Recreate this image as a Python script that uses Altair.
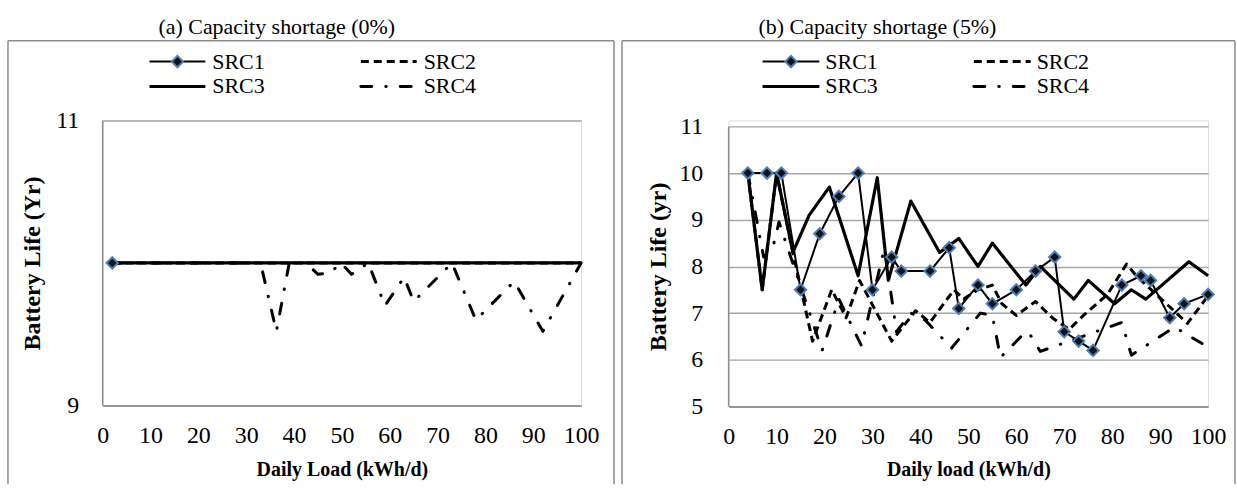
import altair as alt
import pandas as pd

SERIES = ["SRC1", "SRC2", "SRC3", "SRC4"]

# ---------------- Panel (a): capacity shortage 0% ----------------
a_src1_load = [2]
a_src1_life = [10]
a_src2_load = [2, 100]
a_src2_life = [10, 10]
a_src3_load = [2, 100]
a_src3_life = [10, 10]
a_src4_load = [2, 33, 36.3, 39, 42.5, 45, 47.5, 49.8, 52, 55.5, 59, 63, 65, 73, 78, 86, 92, 100]
a_src4_life = [10, 10, 9.52, 10, 10, 9.92, 9.93, 10, 9.92, 10, 9.7, 9.9, 9.73, 10, 9.6, 9.87, 9.52, 10]

# ---------------- Panel (b): capacity shortage 5% ----------------
b_src1_load = [4, 8, 11, 15, 19, 23, 27, 30, 34, 36, 42, 46, 48, 52, 55, 60, 64, 68, 70, 73, 76, 82, 86, 88, 92, 95, 100]
b_src1_life = [10, 10, 10, 7.5, 8.7, 9.5, 10, 7.5, 8.2, 7.9, 7.9, 8.4, 7.1, 7.6, 7.2, 7.5, 7.9, 8.2, 6.6, 6.4, 6.2, 7.6, 7.8, 7.7, 6.9, 7.2, 7.4]
b_src2_load = [4, 7, 10, 13.4, 17.5, 21.5, 24.5, 27.3, 34, 39, 42, 47, 49, 52, 55, 57, 60, 64, 67.5, 71, 74, 79, 83, 85, 95.7, 100]
b_src2_life = [10, 7.5, 10, 8.3, 6.4, 7.5, 6.9, 7.7, 6.4, 7.05, 6.8, 7.5, 7.3, 7.5, 7.6, 7.2, 6.95, 7.25, 6.9, 6.65, 6.95, 7.4, 8.05, 7.8, 6.78, 7.37]
b_src3_load = [4, 7, 10, 13.4, 16.8, 21, 27, 31, 33.3, 38, 44, 48, 52, 55, 62, 65, 72, 75, 80.5, 84, 87, 96, 100]
b_src3_life = [10, 7.5, 10, 8.3, 9.1, 9.7, 7.8, 9.9, 7.7, 9.4, 8.3, 8.6, 8.0, 8.5, 7.6, 8.0, 7.3, 7.7, 7.2, 7.5, 7.3, 8.1, 7.8]
b_src4_load = [4, 7.3, 9.2, 10.5, 19.5, 23, 27.7, 32.5, 35, 38, 41, 46.5, 52.5, 55, 56.7, 61, 62.5, 65, 82, 84, 93, 100]
b_src4_life = [10, 8.2, 8.4, 8.95, 6.2, 7.3, 6.3, 8.4, 6.6, 7.0, 6.85, 6.25, 7.0, 6.95, 6.05, 6.5, 6.6, 6.18, 6.8, 6.1, 6.7, 6.27]

x_ticks = [0, 10, 20, 30, 40, 50, 60, 70, 80, 90, 100]
a_y_ticks = [9, 10, 11]
b_y_ticks = [5, 6, 7, 8, 9, 10, 11]

FONT = "Liberation Serif"
GRID = "#a6a6a6"
FRAME = "#8c8c8c"
MARKER_STROKE = "#4a7ebb"

STYLE = {
    "SRC1": dict(strokeWidth=2),
    "SRC2": dict(strokeWidth=3, strokeDash=[8, 5]),
    "SRC3": dict(strokeWidth=3.2),
    "SRC4": dict(strokeWidth=3, strokeDash=[11, 14, 0.5, 14], strokeCap="round"),
}


def frame_df(loads, lives, name):
    return pd.DataFrame({"load": loads, "life": lives, "series": name})


def make_panel(data, yticks, ydomain, top_gap, title, title_x, ytitle, xtitle, w, h,
               leg, frame, ylabpad, xtitle_gap):
    xenc = alt.X("load:Q", scale=alt.Scale(domain=[0, 100], nice=False),
                 axis=alt.Axis(values=x_ticks, format="d", title=xtitle, grid=False,
                               ticks=False, domainColor=FRAME, domainWidth=1.5,
                               labelFont=FONT, labelFontSize=24, labelColor="black",
                               labelPadding=18, labelFlush=False, labelOverlap=False,
                               titleFont=FONT, titleFontSize=20, titleFontWeight="bold",
                               titleColor="black", titleX=w / 2, titleY=xtitle_gap,
                               titleBaseline="middle", titleAlign="center"))
    yenc = alt.Y("life:Q", scale=alt.Scale(domain=ydomain, nice=False),
                 axis=alt.Axis(values=yticks, format="d", title=ytitle, grid=True,
                               gridColor=GRID, gridWidth=1.5, ticks=False,
                               domain=False, labelFont=FONT,
                               labelFontSize=24, labelColor="black",
                               labelPadding=ylabpad, titleFont=FONT, titleFontSize=24,
                               titleFontWeight="bold", titleColor="black",
                               titleX=-70, titleY=(h + top_gap) / 2, titleAngle=270,
                               titleBaseline="middle", titleAlign="center"))
    layers = []
    one = pd.DataFrame({"k": [0]})
    # chart-area frame
    fl, ft, fr, fb = frame
    layers.append(alt.Chart(one).mark_rule(color=FRAME, strokeWidth=1.5).encode(
        x=alt.value(fl), y=alt.value(ft), y2=alt.value(fb)))
    layers.append(alt.Chart(one).mark_rule(color=FRAME, strokeWidth=1.5).encode(
        x=alt.value(fl), x2=alt.value(fr), y=alt.value(ft)))
    if fr < w + 60:
        layers.append(alt.Chart(one).mark_rule(color=FRAME, strokeWidth=1.5).encode(
            x=alt.value(fr), y=alt.value(ft), y2=alt.value(fb)))
    # plot-area left border (from the top gridline down to the x axis)
    layers.append(alt.Chart(one).mark_rule(color=FRAME, strokeWidth=1.5).encode(
        x=alt.value(0), y=alt.value(top_gap), y2=alt.value(h)))

    # panel title
    tdf = pd.DataFrame({"t": [title]})
    layers.append(alt.Chart(tdf).mark_text(
        font=FONT, fontSize=22, align="left", baseline="alphabetic", color="black").encode(
        x=alt.value(title_x), y=alt.value(-87), text="t:N"))

    for name in ["SRC3", "SRC2", "SRC4", "SRC1"]:
        df = data[name]
        if len(df) > 1:
            layers.append(alt.Chart(df).mark_line(color="black", strokeJoin="round",
                                                  **STYLE[name]).encode(x=xenc, y=yenc))
    layers.append(alt.Chart(data["SRC1"]).mark_point(
        shape="diamond", size=130, filled=True, fill="#111111", stroke=MARKER_STROKE,
        strokeWidth=2, opacity=1).encode(x=xenc, y=yenc))

    # legend inside the chart area, above the plot
    (c0, c1, r0, r1, seglen, txtgap) = leg
    pos = {"SRC1": (c0, r0), "SRC2": (c1, r0), "SRC3": (c0, r1), "SRC4": (c1, r1)}
    for name in SERIES:
        lx, ly = pos[name]
        ldf = pd.DataFrame({"series": [name]})
        layers.append(alt.Chart(ldf).mark_rule(color="black", **STYLE[name]).encode(
            x=alt.value(lx), x2=alt.value(lx + seglen), y=alt.value(ly)))
        if name == "SRC1":
            layers.append(alt.Chart(ldf).mark_point(
                shape="diamond", size=130, filled=True, fill="#111111",
                stroke=MARKER_STROKE, strokeWidth=2, opacity=1).encode(
                x=alt.value(lx + seglen / 2), y=alt.value(ly)))
        layers.append(alt.Chart(ldf).mark_text(
            font=FONT, fontSize=22, align="left", baseline="middle", color="black").encode(
            x=alt.value(lx + seglen + txtgap), y=alt.value(ly), text="series:N"))

    return alt.layer(*layers).properties(width=w, height=h)


data_a = {
    "SRC1": frame_df(a_src1_load, a_src1_life, "SRC1"),
    "SRC2": frame_df(a_src2_load, a_src2_life, "SRC2"),
    "SRC3": frame_df(a_src3_load, a_src3_life, "SRC3"),
    "SRC4": frame_df(a_src4_load, a_src4_life, "SRC4"),
}
data_b = {
    "SRC1": frame_df(b_src1_load, b_src1_life, "SRC1"),
    "SRC2": frame_df(b_src2_load, b_src2_life, "SRC2"),
    "SRC3": frame_df(b_src3_load, b_src3_life, "SRC3"),
    "SRC4": frame_df(b_src4_load, b_src4_life, "SRC4"),
}

# panel (b): its top gridline (11) sits 6 px below the shared plot top
B_H = 287
B_GAP = 6
b_top = 11 + B_GAP * (11 - 5) / (B_H - B_GAP)

panel_a = make_panel(data_a, a_y_ticks, [9, 11], 0, "(a) Capacity shortage (0%)", 56,
                     "Battery Life (Yr)", "Daily Load (kWh/d)", 480, 286,
                     (47, 259, -59, -34, 56, 7), (-95, -80, 513, 365), 24, 64)
panel_b = make_panel(data_b, b_y_ticks, [5, b_top], B_GAP, "(b) Capacity shortage (5%)", 30,
                     "Battery Life (yr)", "Daily load (kWh/d)", 481, B_H,
                     (34, 246, -59, -34, 57, 6), (-107, -80, 508, 365), 26, 63)

chart = alt.hconcat(panel_a, panel_b, spacing=4).properties(
    padding={"left": 6, "top": 14, "right": 0, "bottom": 0}
).configure_view(strokeWidth=0).configure(background="white")

chart.save("out.html", embed_options={"renderer": "svg", "actions": False})
